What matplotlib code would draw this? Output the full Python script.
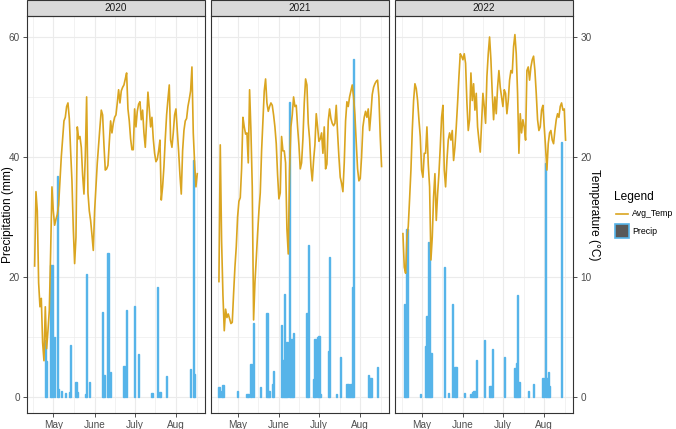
import numpy as np
import pandas as pd
import matplotlib
matplotlib.use("Agg")
import matplotlib.pyplot as plt
import matplotlib.dates as mdates
from matplotlib.patches import Rectangle
from matplotlib.lines import Line2D

plt.rcParams['font.family'] = ['Liberation Sans', 'DejaVu Sans']

years = [2020, 2021, 2022]
season_start = "04-17"   # day 0 of every season

# daily mean temperature (°C), one value per day from 17 April
temp_2020 = [10.9, 17.1, 15.5, 9.5, 7.5, 8.2, 4.5, 3.0, 7.5, 4.0,
             5.5, 7.2, 12.0, 17.5, 15.5, 14.3, 14.8, 15.2, 16.0, 18.0,
             20.0, 21.5, 23.0, 23.3, 24.2, 24.5, 23.2, 20.5, 18.0, 14.0,
             11.1, 13.3, 22.5, 21.5, 21.7, 20.8, 18.5, 16.9, 20.0, 25.0,
             17.0, 15.5, 14.7, 13.5, 12.2, 15.5, 17.5, 19.5, 21.0, 22.5,
             23.9, 23.5, 21.0, 18.9, 19.0, 19.3, 21.2, 23.0, 22.0, 22.8,
             23.3, 23.5, 24.5, 25.6, 24.5, 25.5, 25.8, 26.0, 26.5, 27.0,
             24.0, 23.0, 21.5, 20.6, 20.6, 24.0, 22.5, 23.8, 24.4, 24.6,
             23.1, 23.9, 22.0, 20.8, 23.0, 25.4, 24.0, 22.5, 23.3, 21.5,
             20.3, 19.6, 19.8, 20.5, 21.4, 16.4, 17.5, 19.2, 21.5, 23.5,
             24.8, 26.0, 21.4, 20.8, 22.0, 23.5, 24.0, 22.2, 20.5, 18.5,
             16.9, 20.5, 22.2, 23.0, 23.2, 24.2, 24.8, 25.5, 27.5, 22.0,
             19.5, 17.5, 18.6]
temp_2021 = [9.6, 21.0, 13.0, 8.5, 5.5, 7.3, 6.6, 6.9, 6.5, 6.1,
             6.2, 8.6, 10.8, 12.5, 15.0, 16.3, 16.6, 19.0, 23.3, 22.5,
             21.9, 22.0, 19.5, 25.6, 22.2, 17.5, 6.4, 9.5, 11.5, 13.6,
             15.5, 17.0, 20.5, 23.0, 25.5, 26.5, 24.5, 23.8, 24.2, 24.5,
             24.3, 23.5, 22.5, 21.1, 18.5, 16.5, 17.0, 21.7, 20.5, 20.5,
             19.5, 14.0, 11.9, 18.9, 22.5, 23.5, 25.0, 24.2, 24.3, 22.5,
             21.0, 19.0, 19.5, 21.5, 24.5, 26.5, 26.0, 22.8, 21.5, 19.2,
             18.0, 19.7, 21.0, 23.6, 22.5, 21.3, 21.5, 22.0, 20.3, 22.5,
             19.0, 19.4, 23.0, 24.0, 23.2, 22.8, 22.6, 22.8, 24.3, 22.0,
             20.0, 18.3, 17.8, 17.1, 19.5, 23.0, 24.6, 24.2, 25.0, 25.5,
             26.0, 25.0, 23.5, 21.2, 19.0, 18.0, 18.2, 20.0, 22.5, 23.3,
             23.8, 23.3, 24.0, 22.2, 23.6, 25.2, 25.8, 26.1, 26.3, 26.4,
             25.0, 21.7, 19.2]
temp_2022 = [13.6, 10.8, 10.3, 13.3, 14.2, 16.5, 18.9, 22.2, 24.7, 26.1,
             25.7, 24.7, 23.1, 21.7, 18.9, 18.3, 20.3, 20.3, 22.5, 19.4,
             17.5, 11.4, 13.3, 16.7, 18.6, 14.7, 16.9, 18.6, 20.8, 23.3,
             24.3, 18.9, 17.5, 19.7, 21.4, 22.0, 21.4, 22.2, 19.7, 20.8,
             22.5, 24.5, 26.7, 28.6, 28.4, 28.1, 28.6, 27.8, 24.5, 22.2,
             23.1, 27.0, 24.7, 26.1, 23.9, 25.3, 22.5, 21.4, 20.4, 22.8,
             25.3, 24.2, 22.8, 26.7, 28.6, 30.0, 28.1, 25.3, 23.1, 25.0,
             23.6, 25.8, 27.2, 25.8, 25.0, 24.2, 25.6, 25.3, 23.6, 24.7,
             26.4, 27.2, 27.0, 29.2, 30.2, 28.6, 25.3, 20.3, 23.6, 22.0,
             23.1, 22.5, 21.4, 27.2, 27.5, 26.4, 27.5, 28.1, 28.4, 27.2,
             25.3, 23.1, 22.2, 22.5, 23.9, 24.3, 22.5, 20.8, 18.9, 21.1,
             22.0, 22.2, 21.4, 21.1, 22.2, 23.1, 23.6, 23.3, 24.2, 24.5,
             23.9, 24.0, 21.4]

# rainy days (days after 17 April) and precipitation (mm)
rain_days_2020 = [8, 9, 12, 13, 15, 17, 18, 20, 23, 26, 27, 31, 32, 38, 39, 41,
                  51, 52, 55, 57, 67, 69, 75, 78, 88, 92, 94, 99, 117, 119, 120]
rain_mm_2020 = [9.4, 6.0, 21.9, 21.9, 9.9, 36.8, 1.2, 1.0, 0.6, 0.7, 8.6, 2.5, 0.7, 0.4, 20.5, 2.4,
                14.1, 3.6, 24.0, 4.1, 5.2, 14.4, 15.2, 7.1, 0.6, 18.3, 0.7, 3.5, 4.6, 39.4, 3.8]
rain_days_2021 = [0, 2, 3, 14, 21, 22, 24, 26, 31, 36, 37, 38, 40, 41,
                  47, 48, 49, 50, 51, 53, 54, 55, 56, 66, 67, 71, 72, 74, 75, 76,
                  82, 83, 88, 91, 96, 97, 98, 99, 100, 101, 112, 113, 114, 119]
rain_mm_2021 = [1.7, 1.0, 1.9, 1.0, 0.5, 0.5, 5.5, 12.3, 1.6, 13.9, 1.0, 1.0, 2.2, 4.3,
                11.9, 6.1, 17.2, 4.2, 9.2, 49.2, 9.7, 9.7, 10.7, 13.9, 25.3, 3.0, 9.6, 10.0, 10.2, 0.5,
                7.7, 23.3, 0.5, 6.6, 2.2, 2.2, 0.5, 2.2, 18.3, 56.4, 3.7, 3.1, 3.1, 4.9]
rain_days_2022 = [1, 2, 3, 13, 17, 18, 19, 20, 21, 31, 34, 37, 39, 40, 46,
                  51, 52, 53, 54, 55, 61, 65, 66, 67, 76, 84, 85, 86, 87,
                  94, 98, 105, 107, 108, 109, 110, 119]
rain_mm_2022 = [15.4, 3.2, 27.9, 0.5, 8.4, 13.4, 25.8, 24.6, 7.3, 21.7, 0.6, 15.4, 5.0, 5.0, 0.6,
                0.4, 0.8, 1.0, 1.0, 6.1, 9.4, 1.8, 1.8, 8.0, 6.6, 4.8, 5.7, 16.9, 2.5,
                1.0, 2.2, 3.2, 38.9, 3.1, 4.2, 1.8, 42.5]

temps = [temp_2020, temp_2021, temp_2022]
rain_days = [rain_days_2020, rain_days_2021, rain_days_2022]
rain_mm = [rain_mm_2020, rain_mm_2021, rain_mm_2022]

month_ticks = ["05-01", "06-01", "07-01", "08-01"]
month_labels = ["May", "June", "July", "Aug"]
month_edges = ["04-01", "05-01", "06-01", "07-01", "08-01", "09-01"]

line_col = "#DAA520"
bar_col = "#56B4E9"
grid_col = "#EBEBEB"
frame_col = "#333333"
text_col = "#4D4D4D"

W, H = 676, 429
fig = plt.figure(figsize=(W / 100, H / 100), dpi=100)

panel_left = [26.7, 211.0, 395.0]
panel_w = 178.3
top, bottom = 16.0, 413.3
strip_h = 15.5
ylo, yhi = -2.77, 63.5

for k, yr in enumerate(years):
    ax = fig.add_axes([panel_left[k] / W, 1 - bottom / H, panel_w / W, (bottom - top) / H])
    start = pd.Timestamp(f"{yr}-{season_start}")
    dates = pd.date_range(start, periods=len(temps[k]), freq="D")
    rdates = start + pd.to_timedelta(rain_days[k], unit="D")

    ax.bar(rdates, rain_mm[k], width=0.9, color=bar_col, edgecolor=bar_col,
           linewidth=1.0, zorder=2)
    ax.set_ylim(ylo, yhi)
    ax.set_xlim(start - pd.Timedelta(days=5.95), start + pd.Timedelta(days=127.8))

    ticks = [mdates.date2num(pd.Timestamp(f"{yr}-{m}")) for m in month_ticks]
    edges = [mdates.date2num(pd.Timestamp(f"{yr}-{m}")) for m in month_edges]
    ax.set_xticks(ticks)
    ax.set_xticklabels(month_labels)
    ax.set_xticks([(a + b) / 2 for a, b in zip(edges[:-1], edges[1:])], minor=True)
    ax.set_yticks([0, 20, 40, 60])
    ax.set_yticks([10, 30, 50], minor=True)
    ax.set_axisbelow(True)
    ax.grid(which="major", color=grid_col, lw=0.8)
    ax.grid(which="minor", color=grid_col, lw=0.45)
    ax.tick_params(which="minor", length=0)
    ax.tick_params(which="major", length=3, width=0.6, color=frame_col,
                   labelsize=7.2, labelcolor=text_col, pad=2)
    if k > 0:
        ax.tick_params(axis="y", which="major", length=0, labelleft=False)
    for s in ax.spines.values():
        s.set_color(frame_col)
        s.set_linewidth(0.8)

    tx = ax.twinx()
    tx.plot(dates, temps[k], color=line_col, lw=1.2, zorder=3)
    tx.set_ylim(ylo / 2, yhi / 2)
    tx.set_yticks([0, 10, 20, 30])
    tx.tick_params(axis="y", length=3, width=0.6, color=frame_col,
                   labelsize=7.2, labelcolor=text_col, pad=2)
    if k < 2:
        tx.tick_params(axis="y", length=0, labelright=False)
    for s in tx.spines.values():
        s.set_visible(False)

    # facet strip
    sh = strip_h / (bottom - top)
    ax.add_patch(Rectangle((0, 1), 1, sh, transform=ax.transAxes, clip_on=False,
                           facecolor="#D9D9D9", edgecolor=frame_col, lw=0.8))
    ax.text(0.5, 1 + sh / 2, str(yr), transform=ax.transAxes, ha="center", va="center",
            fontsize=7.2, color="#1A1A1A")

mid = 1 - (top + bottom) / 2 / H
fig.text(8 / W, mid, "Precipitation (mm)", rotation=90, ha="center", va="center",
         fontsize=8.6, color="black")
fig.text(594 / W, mid, "Temperature (°C)", rotation=270, ha="center", va="center",
         fontsize=8.6, color="black")

# legend
fig.text(614 / W, 1 - 197 / H, "Legend", ha="left", va="center", fontsize=8.6)
fig.add_artist(Line2D([615.5 / W, 627.5 / W], [1 - 214 / H] * 2, color=line_col, lw=1.2))
fig.add_artist(Rectangle((614.5 / W, 1 - 238 / H), 14 / W, 14 / H, facecolor="#595959",
                         edgecolor=bar_col, lw=1.2))
fig.text(632 / W, 1 - 214 / H, "Avg_Temp", ha="left", va="center", fontsize=6.3)
fig.text(632 / W, 1 - 231 / H, "Precip", ha="left", va="center", fontsize=6.3)

fig.savefig("out.png", dpi=100, facecolor="white")
